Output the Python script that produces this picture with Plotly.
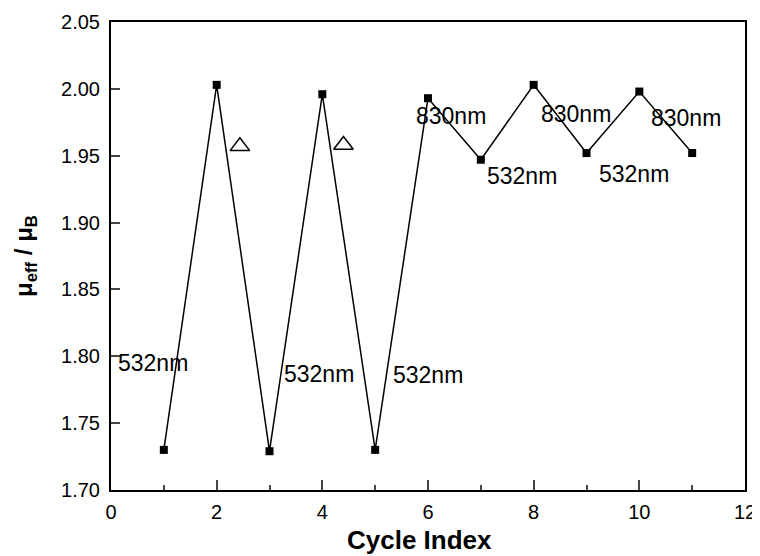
import plotly.graph_objects as go

cycle = [1, 2, 3, 4, 5, 6, 7, 8, 9, 10, 11]
mu_eff = [1.730, 2.003, 1.729, 1.996, 1.730, 1.993, 1.947, 2.003, 1.952, 1.998, 1.952]

label_text = ["532nm", "532nm", "532nm", "830nm", "532nm", "830nm", "532nm", "830nm"]
label_x = [0.10, 3.245, 5.30, 5.74, 7.08, 8.11, 9.19, 10.19]
label_y = [1.795, 1.787, 1.786, 1.9795, 1.935, 1.981, 1.936, 1.978]

tri_x = [2.44, 4.40]
tri_y = [1.957, 1.958]

x_title = "Cycle Index"

fig = go.Figure()
fig.add_trace(go.Scatter(
    x=cycle, y=mu_eff, mode="lines+markers",
    line=dict(color="black", width=1.5),
    marker=dict(symbol="square", size=8, color="black"),
    showlegend=False, cliponaxis=False,
))
fig.add_trace(go.Scatter(
    x=tri_x, y=tri_y, mode="markers",
    marker=dict(symbol="triangle-up-open", size=17, color="black", line=dict(width=1.5)),
    showlegend=False,
))
for t, x, y in zip(label_text, label_x, label_y):
    fig.add_annotation(x=x, y=y, text=t, showarrow=False, xanchor="left", yanchor="middle",
                       font=dict(family="Arial, Liberation Sans", size=23, color="black"))

# x-axis title placed as paper annotation (slightly left of centre, as in the reference)
fig.add_annotation(x=0.487, y=-0.107, xref="paper", yref="paper", text="<b>" + x_title + "</b>",
                   showarrow=False, xanchor="center", yanchor="middle",
                   font=dict(family="Arial, Liberation Sans", size=26, color="black"))

axis_font = dict(family="Arial, Liberation Sans", size=20, color="black")
fig.update_xaxes(
    range=[0, 12], tickvals=[0, 2, 4, 6, 8, 10, 12], ticks="inside", ticklen=10, tickwidth=2,
    minor=dict(dtick=1, ticks="inside", ticklen=5, tickwidth=2, tick0=0),
    showline=True, linewidth=2, linecolor="black", mirror=True,
    showgrid=False, zeroline=False, tickfont=axis_font, ticklabelstandoff=3,
    ticklabeloverflow="allow", automargin=False,
)
fig.update_yaxes(
    range=[1.70, 2.05], tickvals=[1.70, 1.75, 1.80, 1.85, 1.90, 1.95, 2.00, 2.05],
    tickformat=".2f", ticks="inside", ticklen=9, tickwidth=2,
    showline=True, linewidth=2, linecolor="black", mirror=True,
    showgrid=False, zeroline=False, tickfont=axis_font, ticklabelstandoff=5,
    automargin=False,
    title=dict(text="<b>μ<sub>eff</sub> / μ<sub>B</sub></b>", font=dict(family="Arial, Liberation Sans", size=24, color="black"), standoff=22),
)
fig.update_layout(
    width=752, height=548,
    margin=dict(l=103, r=15, t=14, b=66),
    plot_bgcolor="white", paper_bgcolor="white",
)
fig.write_html("out.html")
